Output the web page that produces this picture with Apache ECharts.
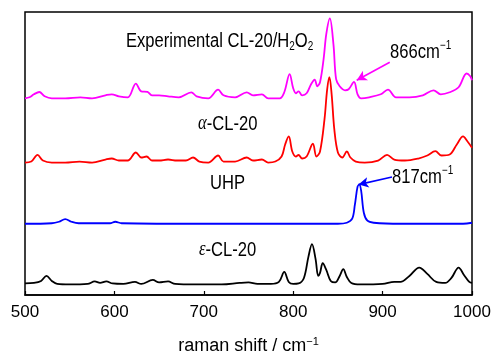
<!DOCTYPE html>
<html><head><meta charset="utf-8">
<script src="https://cdn.jsdelivr.net/npm/echarts@6/dist/echarts.min.js"></script>
<style>html,body{margin:0;padding:0;background:#fff}#c{width:495px;height:354px}</style>
</head><body><div id="c"></div>
<script>
// ε-CL-20 (black)
const epsX = [500,510,518,524,530,536,550,570,578,584,591,598,610,623,630,643,650,660,668,690,720,740,750,760,775,784,790,795,800,806,812,817,821,825,828,830,833,837,842,847,852,856,860,865,875,900,913,920,930,941,950,960,970,977,985,991,997,1000];
const epsY = [11.5,12,14,19,14,11,10.5,11,13.5,12,13.5,11.5,11,13,11,15,12.5,13.5,11,10.5,10.5,12,12.5,11,11,13,23,13,11,11.5,17,38,50.7,36,19,22,31.7,25,14,12.5,19,25.7,18,12,10.5,11,13,13,19,27.3,21,13,12,17,27.3,20,13,12];
// UHP (blue)
const uhpX = [500,530,538,545,552,560,595,601,608,700,800,850,860,866,869,872,874,876,879,883,890,920,990,1000];
const uhpY = [71,71.5,73,75.7,73,71.5,71.5,73,71.5,71,71,71,72,76,90,108,110,104,82,74,72,71,71,72];
// α-CL-20 (red)
const alphaX = [500,507,514,520,530,545,561,575,590,597,605,615,624,630,636,642,650,660,670,680,688,695,705,716,722,735,748,755,765,772,780,787,791,795,799,803,806,810,815,822,826,830,835,838,840.5,843,846,850,855,860,864,870,880,895,905,913,925,940,950,959,966,975,983,990,995,1000];
const alphaY = [132,133,139.7,134,132,132,133,132,135,136,134,134,142,137,138,134,134,135,134,134,137,133,132,139,133,133,137,134,135,132,133,138,150,158,143,138,139.5,136,138,150.7,138,143,175,205,217,200,165,142,137,143,137,133,132,134,139.7,135,134,136,139,143.3,139,140,150,158,153,146.7];
// Experimental CL-20/H2O2 (magenta)
const expX = [500,505,510,516,522,530,545,562,575,590,597,605,615,624,630,637,642,650,660,672,686,692,705,716,722,735,748,755,765,772,785,790,796,800,803,806,810,815,820,824,827,830,834,837,841,845,848,852,858,862,868,872,876,885,898,906,915,930,945,957,965,975,985,994,998,1000];
const expY = [196,197,200,202.3,198,196,196,197,196,199,200,198,197,210.7,203,202.5,199,199,198,197,202,198,196,204.7,199,197,202,199,200,196,196,202,220,206,201,203,199,201,210,214.7,208,212,235,260,275.7,250,215,208,204,205,212.3,200,196,197,200,204.7,197,197,199,204,200,202,207,220.7,218,214];
const xTicks = [500,600,700,800,900,1000];
const arrow866 = [[908,232],[871,214]];
const arrow817 = [[910.5,117.5],[873,110]];

const zip = (xs, ys) => xs.map((x, i) => [x, ys[i]]);
const FONT = '"Liberation Sans",Arial,sans-serif';
const SERIF = '"Liberation Serif","Times New Roman",serif';
const chart = echarts.init(document.getElementById('c'));
const mkSeries = (name, xs, ys, color, arrow) => {
  const s = {name, type:'line', data: zip(xs, ys), showSymbol:false, smooth:0.35,
    lineStyle:{color, width:1.8}, itemStyle:{color}, animation:false, silent:true};
  if (arrow) s.markLine = {silent:true, symbol:['none','arrow'], symbolSize:[8,10], animation:false,
    lineStyle:{color, width:1.6, type:'solid'}, label:{show:false},
    data:[[{coord:arrow[0]},{coord:arrow[1]}]]};
  return s;
};
const richA = {
  n:{fontSize:20, fontFamily:FONT, lineHeight:24, verticalAlign:'middle', fill:'#000'},
  sup:{fontSize:12, fontFamily:FONT, lineHeight:24, verticalAlign:'top', fill:'#000'},
  sub:{fontSize:12, fontFamily:FONT, lineHeight:24, verticalAlign:'bottom', fill:'#000'},
  g:{fontSize:20, fontFamily:SERIF, fontStyle:'italic', lineHeight:24, verticalAlign:'middle', fill:'#000'}
};
const txt = (x, y, text) => ({type:'text', x, y, scaleX:0.83, silent:true,
  style:{text, rich:richA, fill:'#000', font:'20px ' + FONT}});
const richAxis = {
  n:{fontSize:18, fontFamily:FONT, lineHeight:20, verticalAlign:'middle', color:'#000'},
  sup:{fontSize:11, fontFamily:FONT, lineHeight:20, verticalAlign:'top', color:'#000'}
};
chart.setOption({
  animation:false,
  grid:{left:25, right:23, top:12, bottom:59, show:true, borderColor:'#000', borderWidth:1.5,
    containLabel:false, outerBoundsMode:'none'},
  xAxis:{type:'value', min:xTicks[0], max:xTicks[xTicks.length-1], interval:100,
    axisLine:{show:true, lineStyle:{color:'#000', width:1.5}},
    axisTick:{show:true, inside:true, length:4, lineStyle:{color:'#000', width:1.2}},
    splitLine:{show:false},
    axisLabel:{color:'#000', fontSize:17, fontFamily:FONT, margin:9, formatter:v => String(v)},
    name:'{n|raman shift / cm}{sup|−1}', nameLocation:'middle', nameGap:41,
    nameTextStyle:{color:'#000', rich:richAxis}},
  yAxis:{type:'value', min:0, max:282, show:true, axisLine:{show:false}, axisTick:{show:false},
    axisLabel:{show:false}, splitLine:{show:false}},
  series:[
    mkSeries('ε-CL-20', epsX, epsY, '#000000'),
    mkSeries('UHP', uhpX, uhpY, '#0000ff', arrow817),
    mkSeries('α-CL-20', alphaX, alphaY, '#ff0000'),
    mkSeries('Experimental CL-20/H2O2', expX, expY, '#ff00ff', arrow866)
  ],
  graphic:[
    txt(126, 29, '{n|Experimental CL-20/H}{sub|2}{n|O}{sub|2}'),
    txt(390, 40, '{n|866cm}{sup|−1}'),
    txt(198, 112, '{g|α}{n|-CL-20}'),
    txt(210, 171, '{n|UHP}'),
    txt(392, 165, '{n|817cm}{sup|−1}'),
    txt(199, 238, '{g|ε}{n|-CL-20}')
  ]
});
</script></body></html>
